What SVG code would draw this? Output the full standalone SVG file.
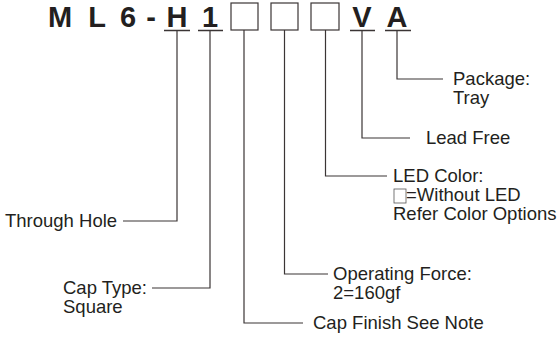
<svg xmlns="http://www.w3.org/2000/svg" width="557" height="340" viewBox="0 0 557 340">
<style>
.t{font-family:"Liberation Sans",Arial,sans-serif;font-size:18.5px;fill:#231f20}
.h{font-family:"Liberation Sans",Arial,sans-serif;font-size:29px;font-weight:bold;fill:#231f20;text-anchor:middle}
.c{fill:none;stroke:#3b3535;stroke-width:1.2}
.u{fill:none;stroke:#3b3535;stroke-width:1.5}
.b{fill:#fff;stroke:#3b3535;stroke-width:1.2}
</style>
<rect width="557" height="340" fill="#fff"/>
<g id="code">
<text class="h" x="60" y="27">M</text>
<text class="h" x="97" y="27">L</text>
<text class="h" x="128" y="27">6</text>
<text class="h" x="151" y="27">-</text>
<text class="h" x="177" y="27">H</text>
<text class="h" x="210" y="27">1</text>
<rect class="b" x="231" y="3" width="27" height="27"/>
<rect class="b" x="271" y="3" width="27" height="27"/>
<rect class="b" x="311" y="3" width="28" height="27"/>
<text class="h" x="362" y="27">V</text>
<text class="h" x="397" y="27">A</text>
<path class="u" d="M164 30.5H190M198 30.5H223M350 30.5H375M385 30.5H411"/>
</g>
<g id="connectors">
<path class="c" d="M177 30V221H123"/>
<path class="c" d="M210 30V288H152"/>
<path class="c" d="M244 30V323H303"/>
<path class="c" d="M284.5 30V274H328"/>
<path class="c" d="M325.5 30V176H387"/>
<path class="c" d="M362 30V138H410"/>
<path class="c" d="M397 30V79H443"/>
</g>
<g id="through-hole"><text class="t" x="5" y="227">Through Hole</text></g>
<g id="cap-type"><text class="t" x="63" y="294">Cap Type:</text><text class="t" x="63" y="313">Square</text></g>
<g id="cap-finish"><text class="t" x="313" y="329">Cap Finish See Note</text></g>
<g id="operating-force"><text class="t" x="333" y="280">Operating Force:</text><text class="t" x="333" y="299">2=160gf</text></g>
<g id="led-color"><text class="t" x="393" y="182">LED Color:</text><rect x="394" y="189" width="12" height="14" fill="#fff" stroke="#555" stroke-width="0.8"/><text class="t" x="406" y="201">=Without LED</text><text class="t" x="393" y="220">Refer Color Options</text></g>
<g id="lead-free"><text class="t" x="426" y="144">Lead Free</text></g>
<g id="package"><text class="t" x="453" y="85">Package:</text><text class="t" x="453" y="104">Tray</text></g>
</svg>
